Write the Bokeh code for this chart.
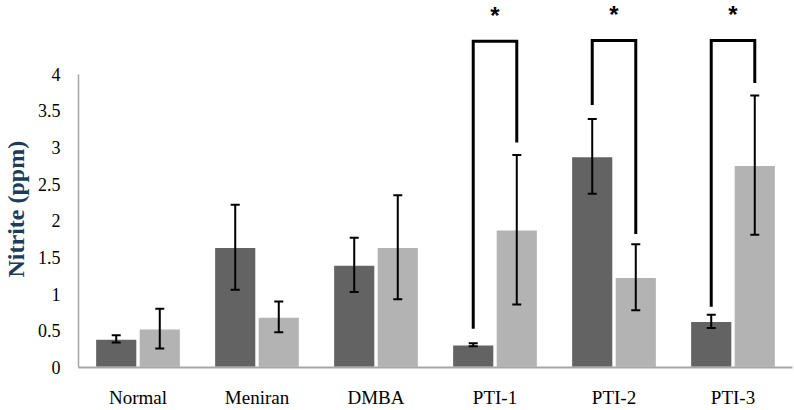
from bokeh.plotting import figure
from bokeh.models import (ColumnDataSource, FixedTicker, Whisker, TeeHead, Title,
                          CustomJSTickFormatter, Range1d)
from bokeh.core.properties import value
from bokeh.embed import file_html
from bokeh.resources import INLINE

# ---- data ----
categories = ["Normal", "Meniran", "DMBA", "PTI-1", "PTI-2", "PTI-3"]
dark_vals = [0.39, 1.64, 1.40, 0.31, 2.88, 0.63]
dark_sd = [0.05, 0.58, 0.37, 0.02, 0.51, 0.09]
light_vals = [0.53, 0.69, 1.64, 1.88, 1.23, 2.76]
light_sd = [0.27, 0.21, 0.71, 1.02, 0.45, 0.95]
y_ticks = [0, 0.5, 1, 1.5, 2, 2.5, 3, 3.5, 4]

# significance brackets: category, left-end, right-end, top
sig_cats = ["PTI-1", "PTI-2", "PTI-3"]
sig_left = [0.53, 3.58, 0.83]
sig_right = [3.07, 1.82, 3.88]
sig_top = [4.45, 4.46, 4.46]
sig_mark = ["*", "*", "*"]

DARK = "#636363"
LIGHT = "#b3b3b3"
OFF = 0.183
BW = 0.35
SERIF = "Liberation Serif"

n = len(categories)
xc = [i + 0.5 for i in range(n)]
xd = [x - OFF for x in xc]
xl = [x + OFF for x in xc]

p = figure(width=794, height=410, output_backend="svg", toolbar_location=None,
           x_range=Range1d(0, 714 / 119), y_range=Range1d(0, 368 / 73.5),
           min_border_left=78, min_border_right=2, min_border_top=0, min_border_bottom=42)
p.outline_line_color = None
p.xgrid.grid_line_color = None
p.ygrid.grid_line_color = None
p.background_fill_color = "white"

src_d = ColumnDataSource(dict(x=xd, top=dark_vals,
                              lo=[v - s for v, s in zip(dark_vals, dark_sd)],
                              hi=[v + s for v, s in zip(dark_vals, dark_sd)]))
src_l = ColumnDataSource(dict(x=xl, top=light_vals,
                              lo=[v - s for v, s in zip(light_vals, light_sd)],
                              hi=[v + s for v, s in zip(light_vals, light_sd)]))

p.vbar(x="x", top="top", bottom=0, width=BW, source=src_d, fill_color=DARK,
       line_color="white", line_width=1.5)
p.vbar(x="x", top="top", bottom=0, width=BW, source=src_l, fill_color=LIGHT,
       line_color="white", line_width=1.5)

for src in (src_d, src_l):
    w = Whisker(base="x", lower="lo", upper="hi", source=src, level="overlay",
                line_color="black", line_width=2,
                upper_head=TeeHead(size=9, line_width=2, line_color="black"),
                lower_head=TeeHead(size=9, line_width=2, line_color="black"))
    p.add_layout(w)

# brackets
bxs, bys, sx, sy = [], [], [], []
for c, l, r, t in zip(sig_cats, sig_left, sig_right, sig_top):
    i = categories.index(c)
    a, b = xc[i] - OFF, xc[i] + OFF
    bxs.append([a, a, b, b])
    bys.append([l, t, t, r])
    sx.append(xc[i])
    sy.append(t + 0.35)
p.multi_line(xs=bxs, ys=bys, line_color="black", line_width=3, line_join="miter")
p.text(x=sx, y=sy, text=sig_mark, text_align="center", text_baseline="alphabetic",
       text_font=value("Liberation Sans"), text_font_style="bold",
       text_font_size="24px", text_color="black")

# x axis
p.xaxis.ticker = FixedTicker(ticks=xc)
p.xaxis.major_label_overrides = {x: c for x, c in zip(xc, categories)}
p.xaxis.axis_line_color = "#a6a6a6"
p.xaxis.axis_line_width = 2
p.xaxis.major_tick_line_color = None
p.xaxis.minor_tick_line_color = None
p.xaxis.major_tick_out = 0
p.xaxis.major_tick_in = 0
p.xaxis.minor_tick_out = 0
p.xaxis.minor_tick_in = 0
p.xaxis.major_label_standoff = 19
p.xaxis.major_label_text_font = SERIF
p.xaxis.major_label_text_font_size = "19px"
p.xaxis.major_label_text_color = "black"

# y axis
p.yaxis.ticker = FixedTicker(ticks=y_ticks)
p.yaxis.formatter = CustomJSTickFormatter(code="return tick.toString();")
p.yaxis.bounds = (0, 4)
p.yaxis.axis_line_color = "#a6a6a6"
p.yaxis.axis_line_width = 1.5
p.yaxis.major_tick_line_color = None
p.yaxis.minor_tick_line_color = None
p.yaxis.major_tick_out = 0
p.yaxis.major_tick_in = 0
p.yaxis.minor_tick_out = 0
p.yaxis.minor_tick_in = 0
p.yaxis.major_label_standoff = 18
p.yaxis.major_label_text_font = SERIF
p.yaxis.major_label_text_font_size = "18px"
p.yaxis.major_label_text_color = "black"
# invisible spacer label widening the axis panel
p.yaxis.axis_label = " "
p.yaxis.axis_label_text_font_size = "1px"
p.yaxis.axis_label_standoff = 2

p.add_layout(Title(text="Nitrite (ppm)", align="left", offset=90,
                   text_font=SERIF, text_font_size="24px", text_font_style="bold",
                   text_color="#1f3b5a", standoff=0), "left")

open("out.html", "w").write(file_html(p, INLINE))
